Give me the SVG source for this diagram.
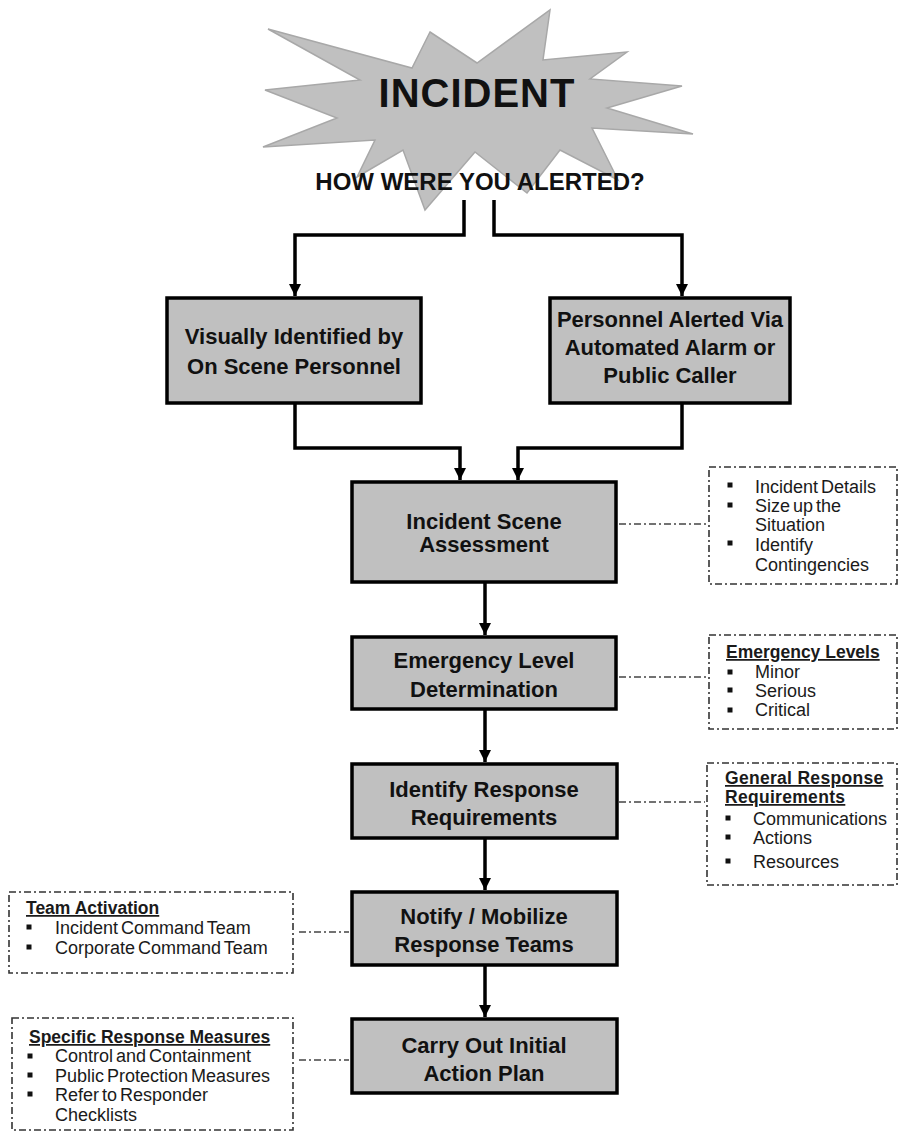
<svg xmlns="http://www.w3.org/2000/svg" width="901" height="1132" viewBox="0 0 901 1132">
<style>
.box{fill:#c0c0c0;stroke:#000;stroke-width:3.5}
.bt{font-family:"Liberation Sans",Arial,sans-serif;font-weight:bold;font-size:22px;fill:#111;text-anchor:middle}
.conn{fill:none;stroke:#000;stroke-width:3.5}
.dd{fill:none;stroke:#444;stroke-width:1.6;stroke-dasharray:7 3 2 3}
.note{fill:none;stroke:#333;stroke-width:1.6;stroke-dasharray:7 3 2 3}
.st{font-family:"Liberation Sans",Arial,sans-serif;font-size:18px;fill:#1a1a1a;word-spacing:-2px}
.hd{font-family:"Liberation Sans",Arial,sans-serif;font-size:17.5px;font-weight:bold;fill:#1a1a1a;text-decoration:underline}
.bul{fill:#111}
</style>
<defs>
<marker id="arr" viewBox="0 0 10 10" refX="10" refY="5" markerWidth="12" markerHeight="12" markerUnits="userSpaceOnUse" orient="auto">
<path d="M0,0 L10,5 L0,10 z" fill="#000"/>
</marker>
</defs>

<g id="incident">
<polygon points="430,32 477,63 550,10 543,60 627,52 590,79 682,86 607,108 693,134 592,128 618,180 560,150 527,193 475,152 425,210 403,150 357,177 375,140 263,147 337,118 265,90 360,80 268,29 412,68" fill="#c0c0c0" stroke="#a8a8a8" stroke-width="1.5"/>
<text x="477" y="107" font-family="Liberation Sans,Arial,sans-serif" font-weight="bold" font-size="40" fill="#111" text-anchor="middle" letter-spacing="1">INCIDENT</text>
</g>
<g id="question">
<text x="480" y="190" font-family="Liberation Sans,Arial,sans-serif" font-weight="bold" font-size="24" fill="#111" text-anchor="middle">HOW WERE YOU ALERTED?</text>
</g>

<g id="connectors">
<path class="conn" d="M464,200 V235 H295 V296" marker-end="url(#arr)"/>
<path class="conn" d="M494,200 V235 H682 V296" marker-end="url(#arr)"/>
<path class="conn" d="M295,403 V448 H460 V480" marker-end="url(#arr)"/>
<path class="conn" d="M682,403 V448 H518 V480" marker-end="url(#arr)"/>
<path class="conn" d="M485,582 V635" marker-end="url(#arr)"/>
<path class="conn" d="M485,709 V762" marker-end="url(#arr)"/>
<path class="conn" d="M485,838 V890" marker-end="url(#arr)"/>
<path class="conn" d="M485,965 V1017" marker-end="url(#arr)"/>
<line class="dd" x1="619" y1="524" x2="707" y2="524"/>
<line class="dd" x1="619" y1="677" x2="707" y2="677"/>
<line class="dd" x1="619" y1="802" x2="705" y2="802"/>
<line class="dd" x1="299" y1="932" x2="349" y2="932"/>
<line class="dd" x1="299" y1="1060" x2="349" y2="1060"/>
</g>

<g id="visual">
<rect class="box" x="167" y="298" width="254" height="105"/>
<text class="bt" x="294" y="344">Visually Identified by</text>
<text class="bt" x="294" y="374">On Scene Personnel</text>
</g>
<g id="alarm">
<rect class="box" x="550" y="298" width="240" height="105"/>
<text class="bt" x="670" y="327" font-size="20">Personnel Alerted Via</text>
<text class="bt" x="670" y="355" font-size="20">Automated Alarm or</text>
<text class="bt" x="670" y="383" font-size="20">Public Caller</text>
</g>
<g id="assessment">
<rect class="box" x="352" y="482" width="264" height="100"/>
<text class="bt" x="484" y="529">Incident Scene</text>
<text class="bt" x="484" y="552">Assessment</text>
</g>
<g id="level">
<rect class="box" x="352" y="637" width="264" height="72"/>
<text class="bt" x="484" y="668">Emergency Level</text>
<text class="bt" x="484" y="697">Determination</text>
</g>
<g id="requirements">
<rect class="box" x="352" y="764" width="265" height="74"/>
<text class="bt" x="484" y="797">Identify Response</text>
<text class="bt" x="484" y="825">Requirements</text>
</g>
<g id="notify">
<rect class="box" x="352" y="892" width="265" height="73"/>
<text class="bt" x="484" y="924">Notify / Mobilize</text>
<text class="bt" x="484" y="952">Response Teams</text>
</g>
<g id="carryout">
<rect class="box" x="352" y="1019" width="265" height="74"/>
<text class="bt" x="484" y="1053">Carry Out Initial</text>
<text class="bt" x="484" y="1081">Action  Plan</text>
</g>

<g id="note-assessment">
<rect class="note" x="709" y="467" width="188" height="117"/>
<rect class="bul" x="727.5" y="482.5" width="5" height="5"/>
<rect class="bul" x="727.5" y="502.5" width="5" height="5"/>
<rect class="bul" x="727.5" y="540.5" width="5" height="5"/>
<text class="st" x="755" y="493">Incident Details</text>
<text class="st" x="755" y="512">Size  up the</text>
<text class="st" x="755" y="531">Situation</text>
<text class="st" x="755" y="551">Identify</text>
<text class="st" x="755" y="571">Contingencies</text>
</g>
<g id="note-levels">
<rect class="note" x="709" y="635" width="188" height="94"/>
<text class="hd" x="726" y="658">Emergency Levels</text>
<rect class="bul" x="727.5" y="669.5" width="5" height="5"/>
<rect class="bul" x="727.5" y="687.5" width="5" height="5"/>
<rect class="bul" x="727.5" y="707.5" width="5" height="5"/>
<text class="st" x="755" y="678">Minor</text>
<text class="st" x="755" y="697">Serious</text>
<text class="st" x="755" y="716">Critical</text>
</g>
<g id="note-requirements">
<rect class="note" x="707" y="763" width="190" height="122"/>
<text class="hd" x="725" y="784" font-size="16" letter-spacing="0.3">General Response</text>
<text class="hd" x="725" y="803" font-size="16" letter-spacing="0.3">Requirements</text>
<rect class="bul" x="725.5" y="815.5" width="5" height="5"/>
<rect class="bul" x="725.5" y="834.5" width="5" height="5"/>
<rect class="bul" x="725.5" y="858.5" width="5" height="5"/>
<text class="st" x="753" y="825">Communications</text>
<text class="st" x="753" y="844">Actions</text>
<text class="st" x="753" y="868">Resources</text>
</g>
<g id="note-teams">
<rect class="note" x="9" y="892" width="284" height="81"/>
<text class="hd" x="26" y="914">Team Activation</text>
<rect class="bul" x="26.5" y="924.5" width="5" height="5"/>
<rect class="bul" x="26.5" y="944.5" width="5" height="5"/>
<text class="st" x="55" y="934">Incident Command Team</text>
<text class="st" x="55" y="954">Corporate Command Team</text>
</g>
<g id="note-measures">
<rect class="note" x="12" y="1018" width="281" height="112"/>
<text class="hd" x="29" y="1043">Specific Response Measures</text>
<rect class="bul" x="27.5" y="1053.5" width="5" height="5"/>
<rect class="bul" x="27.5" y="1072.5" width="5" height="5"/>
<rect class="bul" x="27.5" y="1091.5" width="5" height="5"/>
<text class="st" x="55" y="1062">Control and Containment</text>
<text class="st" x="55" y="1082">Public Protection Measures</text>
<text class="st" x="55" y="1101">Refer to Responder</text>
<text class="st" x="55" y="1121">Checklists</text>
</g>
</svg>
